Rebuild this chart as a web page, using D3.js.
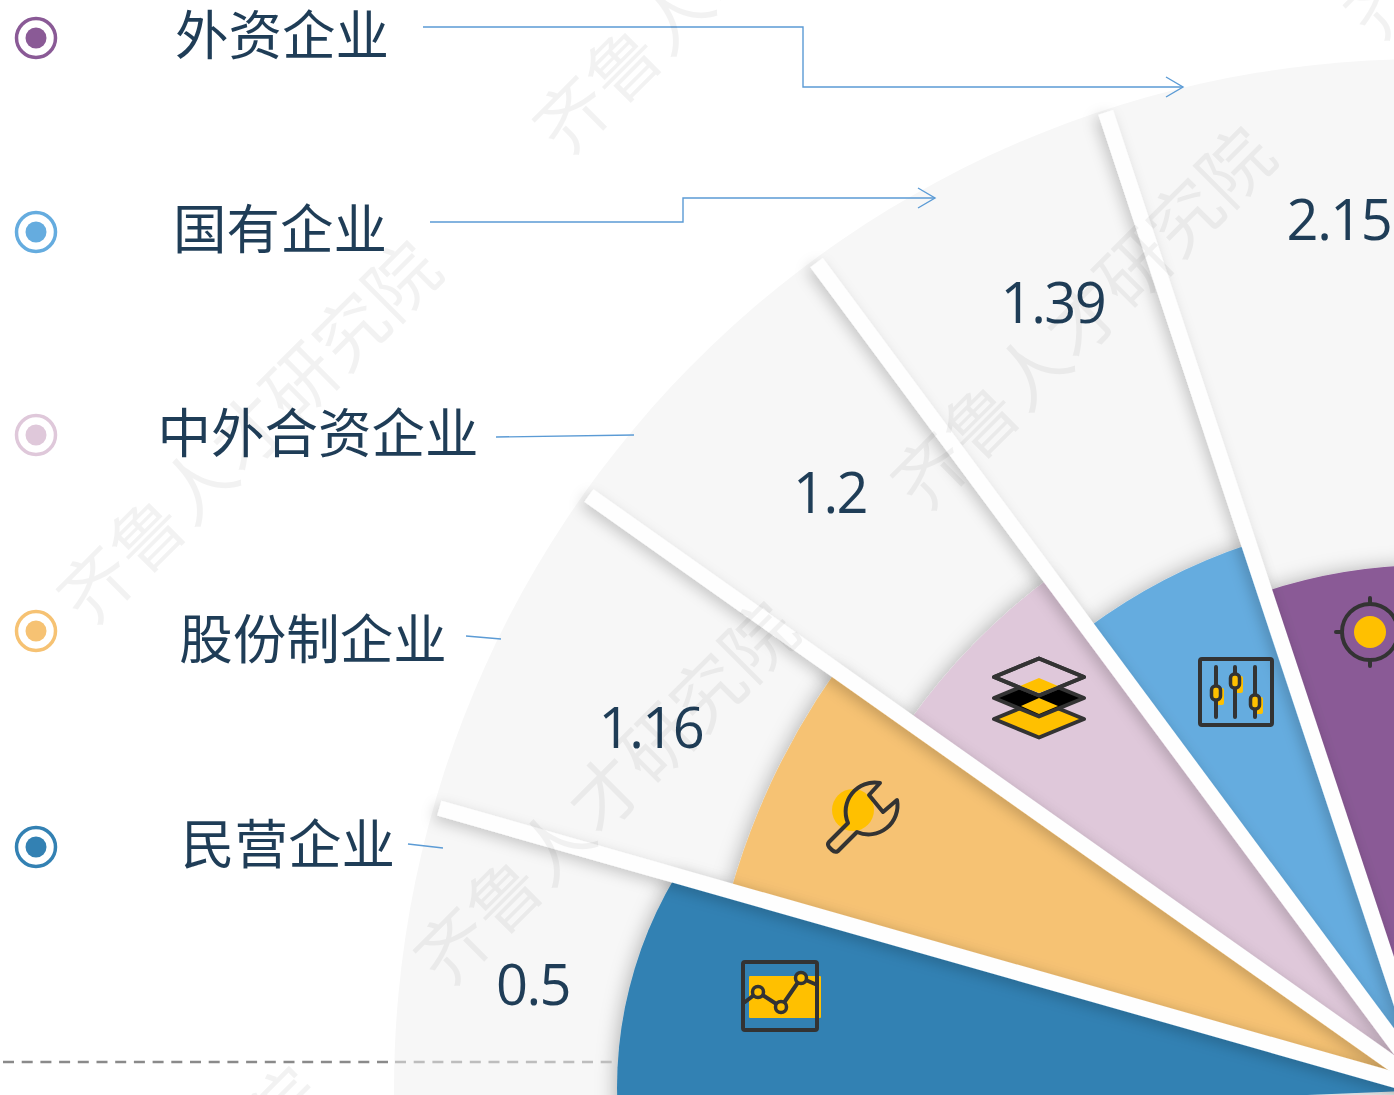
<!DOCTYPE html>
<html>
<head>
<meta charset="utf-8">
<script src="https://cdn.jsdelivr.net/npm/d3@7"></script>
<style>
  html, body { margin: 0; padding: 0; background: #fff; }
  svg { display: block; }
</style>
</head>
<body>
<div id="chart"></div>
<script>
// data, from the top sector going anticlockwise
const categories = ['外资企业', '国有企业', '中外合资企业', '股份制企业', '民营企业'];
const values = [2.15, 1.39, 1.2, 1.16, 0.5];
const colors = ['#8a5a96', '#65acdf', '#dfc8da', '#f6c273', '#3381b3'];

// layout
const WIDTH = 1394, HEIGHT = 1095;
const CX = 1430, CY = 1090;
const FAN_X = 1425, FAN_R = 1031;
const TEXT = '#1f3d57', LINE = '#5b9bd5', YELLOW = '#ffc000', ICON = '#333';
const sectorRadii = [525, 575, 638, 727, 850];
const sectorSweeps = [18.35, 18.2, 18.2, 19.37, 18.2];
const legendY = [38, 232, 435, 631, 847];
const nameX = [282, 280, 318, 313, 288];
const nameY = [36, 230, 434, 640, 845];
const valueX = [1339, 1053, 830, 651, 533];
const valueY = [220, 303, 493, 728, 985];
const leaders = [
  [[423, 27], [803, 27], [803, 87], [1183, 87]],
  [[430, 222], [683, 222], [683, 198], [935, 198]],
  [[496, 437], [634, 435]],
  [[466, 636], [501, 639]],
  [[408, 844], [443, 848]]
];
const markCenters = [[250, 434], [726, -36], [607, 795], [1084, 320], [1537, -150], [132, 1260]];
const knobs = [[1216, 693], [1235, 681], [1255, 702]];

const svg = d3.select('#chart').append('svg')
  .attr('width', WIDTH)
  .attr('height', HEIGHT);

const defs = svg.append('defs');
const sectorShadow = defs.append('filter').attr('id', 'sectorShadow')
  .attr('filterUnits', 'userSpaceOnUse')
  .attr('x', 0).attr('y', 0).attr('width', WIDTH).attr('height', HEIGHT);
sectorShadow.append('feDropShadow')
  .attr('dx', -3).attr('dy', -1).attr('stdDeviation', 9)
  .attr('flood-color', '#000').attr('flood-opacity', 0.25);
const spokeShadow = defs.append('filter').attr('id', 'spokeShadow')
  .attr('filterUnits', 'userSpaceOnUse')
  .attr('x', 0).attr('y', 0).attr('width', WIDTH).attr('height', HEIGHT);
spokeShadow.append('feDropShadow')
  .attr('dx', -4).attr('dy', 4).attr('stdDeviation', 7)
  .attr('flood-color', '#000').attr('flood-opacity', 0.2);
const soft = defs.append('filter').attr('id', 'soft');
soft.append('feGaussianBlur').attr('stdDeviation', 1.5);

// the last sector is rounder than the others, it gets cut by its own circle
defs.append('clipPath').attr('id', 'lastSector')
  .append('circle').attr('cx', 1029).attr('cy', 1088).attr('r', 412);

// radius of each coloured sector follows its value
const radius = d3.scaleLinear().domain(values).range(sectorRadii);

const TOTAL_ANGLE = -d3.sum(sectorSweeps) * Math.PI / 180;
const pie = d3.pie().sort(null).value((d, i) => sectorSweeps[i]).startAngle(0).endAngle(TOTAL_ANGLE);
const slices = pie(values);
const arc = d3.arc().innerRadius(0).outerRadius(d => radius(d.data));
const centered = `translate(${CX},${CY})`;

// grey background fan
svg.append('path')
  .attr('transform', `translate(${FAN_X},${CY})`)
  .attr('d', d3.arc()({ innerRadius: 0, outerRadius: FAN_R, startAngle: 0, endAngle: -1.75 }))
  .attr('fill', '#f7f7f7');

// faint streak beside 0.5
svg.append('line')
  .attr('x1', 578).attr('y1', 969).attr('x2', 640).attr('y2', 969)
  .attr('stroke', '#e4e4e4').attr('stroke-width', 3)
  .attr('filter', 'url(#soft)');

svg.append('g').selectAll('g')
  .data(slices)
  .join('g')
  .attr('filter', 'url(#sectorShadow)')
  .append('g')
  .attr('clip-path', (d, i) => i === slices.length - 1 ? 'url(#lastSector)' : null)
  .append('path')
  .attr('transform', centered)
  .attr('d', arc)
  .attr('fill', (d, i) => colors[i]);

// white spokes between sectors
const spokes = slices.slice(0, -1).map(d => d.endAngle);
svg.append('g').attr('filter', 'url(#spokeShadow)')
  .append('g')
  .attr('transform', centered)
  .selectAll('line')
  .data(spokes)
  .join('line')
  .attr('x1', 0).attr('y1', 0)
  .attr('x2', a => d3.pointRadial(a, 1030)[0])
  .attr('y2', a => d3.pointRadial(a, 1030)[1])
  .attr('stroke', '#fefefe')
  .attr('stroke-width', 15.5);

// dashed base line
svg.append('line')
  .attr('x1', 3).attr('y1', 1062).attr('x2', 395).attr('y2', 1062)
  .attr('stroke', '#8a8a8a').attr('stroke-width', 2.5).attr('stroke-dasharray', '11 7.7');
svg.append('line')
  .attr('x1', 395).attr('y1', 1062).attr('x2', 612).attr('y2', 1062)
  .attr('stroke', '#bdbdbd').attr('stroke-width', 2.5).attr('stroke-dasharray', '11 7.7');

// legend rings
const legend = svg.append('g').selectAll('g')
  .data(categories)
  .join('g')
  .attr('transform', (d, i) => `translate(36,${legendY[i]})`);
legend.append('circle')
  .attr('r', 19.5)
  .attr('fill', '#fff')
  .attr('stroke', (d, i) => colors[i])
  .attr('stroke-width', 3.5);
legend.append('circle')
  .attr('r', 10.5)
  .attr('fill', (d, i) => colors[i]);

// category names
svg.append('g').selectAll('text')
  .data(categories)
  .join('text')
  .attr('x', (d, i) => nameX[i])
  .attr('y', (d, i) => nameY[i] + 19)
  .attr('text-anchor', 'middle')
  .attr('font-family', '"Noto Sans CJK SC", sans-serif')
  .attr('font-size', 53.5)
  .attr('fill', TEXT)
  .text(d => d);

// value labels
svg.append('g').selectAll('text')
  .data(values)
  .join('text')
  .attr('x', (d, i) => valueX[i])
  .attr('y', (d, i) => valueY[i] + 20)
  .attr('text-anchor', 'middle')
  .attr('font-family', '"Open Sans", sans-serif')
  .attr('font-size', 56)
  .attr('letter-spacing', -1.5)
  .attr('fill', TEXT)
  .text(d => d);

// leader lines
const line = d3.line();
svg.append('g').selectAll('path')
  .data(leaders)
  .join('path')
  .attr('d', line)
  .attr('fill', 'none')
  .attr('stroke', LINE)
  .attr('stroke-width', 1.4);
svg.append('g').selectAll('path')
  .data(leaders.slice(0, 2))
  .join('path')
  .attr('d', d => {
    const [x, y] = d[d.length - 1];
    return line([[x - 17, y - 10], [x, y], [x - 17, y + 10]]);
  })
  .attr('fill', 'none')
  .attr('stroke', LINE)
  .attr('stroke-width', 1.4);

// icons
const icons = svg.append('g')
  .attr('fill', 'none')
  .attr('stroke', ICON)
  .attr('stroke-width', 4)
  .attr('stroke-linejoin', 'round')
  .attr('stroke-linecap', 'round');

// target
const target = icons.append('g').attr('transform', 'translate(1370,632)');
target.append('circle').attr('r', 16).attr('fill', YELLOW).attr('stroke', 'none');
target.append('circle').attr('r', 28);
[[0, -34, 0, -28], [0, 28, 0, 34], [-34, 0, -28, 0], [28, 0, 34, 0]].forEach(t => {
  target.append('line').attr('x1', t[0]).attr('y1', t[1]).attr('x2', t[2]).attr('y2', t[3]);
});

// sliders
const sliders = icons.append('g');
sliders.append('rect').attr('x', 1200).attr('y', 659).attr('width', 72).attr('height', 66).attr('rx', 2);
knobs.forEach(k => {
  sliders.append('rect').attr('x', k[0]).attr('y', k[1] - 5).attr('width', 8).attr('height', 17)
    .attr('rx', 2).attr('fill', YELLOW).attr('stroke', 'none');
  sliders.append('line').attr('x1', k[0]).attr('y1', 667).attr('x2', k[0]).attr('y2', 717);
});
knobs.forEach(k => {
  sliders.append('rect').attr('x', k[0] - 4.5).attr('y', k[1] - 7).attr('width', 9).attr('height', 14)
    .attr('rx', 4).attr('fill', YELLOW).attr('stroke-width', 3.5);
});

// layers
const diamond = (y, hw, hh) => line([[1039 - hw, y], [1039, y - hh], [1039 + hw, y], [1039, y + hh]]) + 'Z';
const layers = icons.append('g');
layers.append('path').attr('d', diamond(719, 45, 18.5)).attr('fill', YELLOW);
layers.append('path').attr('d', diamond(698, 45, 18.5)).attr('fill', '#000');
layers.append('path').attr('d', line([[1039, 698], [1021, 706], [1039, 714], [1058, 706]]) + 'Z').attr('fill', YELLOW).attr('stroke', 'none');
layers.append('path').attr('d', diamond(677, 45, 18.5)).attr('fill', '#dfc8da');
layers.append('path').attr('d', line([[1039, 678], [1020, 686], [1039, 693], [1058, 686]]) + 'Z').attr('fill', YELLOW).attr('stroke', 'none');
layers.append('path').attr('d', diamond(677, 45, 18.5));

// wrench
const wrench = icons.append('g');
wrench.append('circle').attr('cx', 853).attr('cy', 810).attr('r', 21).attr('fill', YELLOW).attr('stroke', 'none');
wrench.append('path')
  .attr('d', 'M880 783L869 795L883 812L897 800A29 29 0 0 1 857 832L838 851Q835 853 832 850L829 847Q827 844 829 842L848 823A29 29 0 0 1 880 783Z');

// line chart icon
const trend = icons.append('g');
trend.append('rect').attr('x', 749).attr('y', 976).attr('width', 72).attr('height', 42).attr('rx', 1)
  .attr('fill', YELLOW).attr('stroke', 'none');
trend.append('rect').attr('x', 743).attr('y', 962).attr('width', 74).attr('height', 68).attr('rx', 2);
trend.append('path').attr('d', line([[745, 1002], [758, 992], [781, 1007], [801, 978], [815, 984]]));
[[758, 992], [781, 1007], [801, 978]].forEach(p => {
  trend.append('circle').attr('cx', p[0]).attr('cy', p[1]).attr('r', 5.5).attr('fill', YELLOW).attr('stroke-width', 3.5);
});

// watermark
svg.append('g').selectAll('text')
  .data(markCenters)
  .join('text')
  .attr('transform', d => `translate(${d[0]},${d[1]}) rotate(-45)`)
  .attr('text-anchor', 'middle')
  .attr('dy', '0.35em')
  .attr('font-family', '"Noto Sans CJK SC", sans-serif')
  .attr('font-size', 72)
  .attr('fill', '#000')
  .attr('fill-opacity', 0.05)
  .text('齐鲁人才研究院');
</script>
</body>
</html>
